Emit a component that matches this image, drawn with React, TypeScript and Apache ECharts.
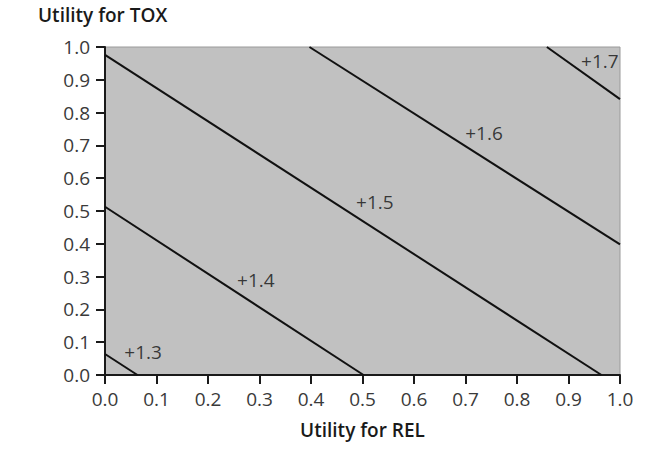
import React, { useEffect, useRef } from "react";
import * as echarts from "echarts";

const xTicks = [0, 0.1, 0.2, 0.3, 0.4, 0.5, 0.6, 0.7, 0.8, 0.9, 1.0];
const contourLevels = ["+1.3", "+1.4", "+1.5", "+1.6", "+1.7"];
const startX = [0, 0, 0, 0.397, 0.858];
const startY = [0.064, 0.513, 0.976, 1.0, 1.0];
const endX = [0.063, 0.502, 0.964, 1.0, 1.0];
const endY = [0, 0, 0, 0.398, 0.841];
const labelX = [0.074, 0.293, 0.524, 0.736, 0.961];
const labelY = [0.07, 0.29, 0.527, 0.738, 0.957];

const FONT = "'Open Sans', 'Noto Sans', sans-serif";

export default function App() {
  const ref = useRef<HTMLDivElement>(null);
  useEffect(() => {
    if (!ref.current) return;
    const chart = echarts.init(ref.current, undefined, { renderer: "svg" });
    const lineSeries = contourLevels.map((lvl, i) => ({
      type: "line",
      name: lvl,
      data: [
        [startX[i], startY[i]],
        [endX[i], endY[i]],
      ],
      symbol: "none",
      lineStyle: { color: "#111", width: 2 },
      silent: true,
      z: 3,
    }));
    const labelSeries = {
      type: "scatter",
      symbolSize: 0,
      data: contourLevels.map((lvl, i) => ({ name: lvl, value: [labelX[i], labelY[i]] })),
      label: {
        show: true,
        position: "inside",
        formatter: (p: any) => p.name,
        fontFamily: FONT,
        fontSize: 19,
        color: "#111",
        fontWeight: 500,
      },
      silent: true,
      z: 4,
    };
    chart.setOption({
      animation: false,
      title: {
        text: "Utility for TOX",
        left: 38,
        top: 5,
        padding: 0,
        textStyle: { fontFamily: FONT, fontSize: 19, fontWeight: 600, color: "#1a1a1a" },
      },
      grid: {
        left: 105,
        right: 46,
        top: 47,
        bottom: 75,
        outerBoundsMode: "none",
        containLabel: false,
        show: true,
        backgroundColor: "#c1c1c1",
        borderColor: "#9a9a9a",
        borderWidth: 1,
      },
      xAxis: {
        type: "value",
        min: xTicks[0],
        max: xTicks[xTicks.length - 1],
        interval: 0.1,
        name: "Utility for REL",
        nameLocation: "middle",
        nameGap: 45,
        nameTextStyle: { fontFamily: FONT, fontSize: 19, fontWeight: 600, color: "#1a1a1a" },
        axisLine: { show: true, lineStyle: { color: "#1a1a1a", width: 2 } },
        axisTick: { show: true, inside: false, length: 9, lineStyle: { color: "#1a1a1a", width: 2 } },
        axisLabel: {
          margin: 14,
          fontFamily: FONT,
          fontSize: 19,
          color: "#3a3a3a",
          formatter: (v: number) => v.toFixed(1),
        },
        splitLine: { show: false },
      },
      yAxis: {
        type: "value",
        min: 0,
        max: 1,
        interval: 0.1,
        axisLine: { show: true, lineStyle: { color: "#1a1a1a", width: 2 } },
        axisTick: { show: true, inside: false, length: 9, lineStyle: { color: "#1a1a1a", width: 2 } },
        axisLabel: {
          margin: 15,
          fontFamily: FONT,
          fontSize: 19,
          color: "#3a3a3a",
          formatter: (v: number) => v.toFixed(1),
        },
        splitLine: { show: false },
      },
      series: [...lineSeries, labelSeries],
    });
    return () => chart.dispose();
  }, []);
  return (
    <div
      ref={ref}
      style={{ position: "absolute", left: 0, top: 0, width: 666, height: 450 }}
    />
  );
}
